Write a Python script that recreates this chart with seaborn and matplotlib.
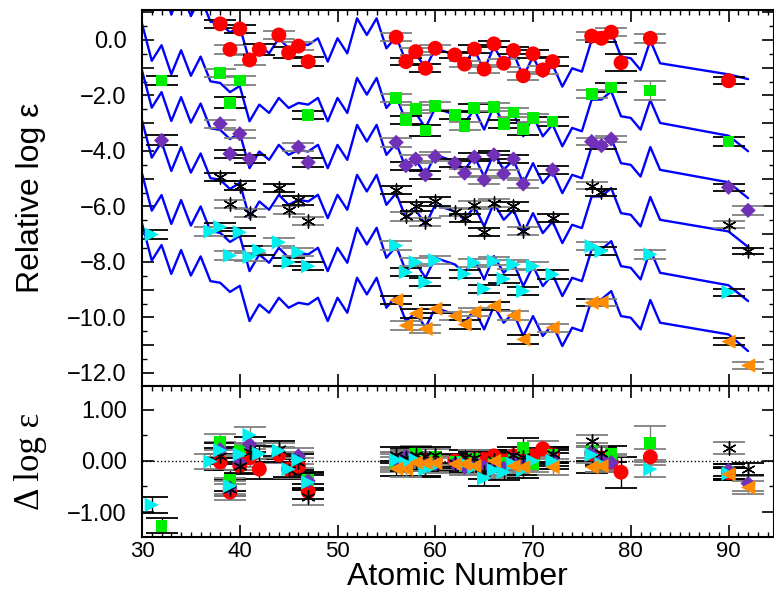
import numpy as np
import pandas as pd
import matplotlib
matplotlib.use("Agg")
import matplotlib.pyplot as plt
import matplotlib.ticker as mticker
import seaborn as sns

# scaled solar r-process pattern (Os = 0)
z_solar = [30, 31, 32, 33, 34, 35, 36, 37, 38, 39, 40, 41, 42, 43, 44, 45, 46, 47,
           48, 49, 50, 51, 52, 53, 54, 55, 56, 57, 58, 59, 60, 62, 63, 64, 65, 66,
           67, 68, 69, 70, 71, 72, 73, 74, 75, 76, 77, 78, 79, 80, 81, 82, 83]
solar_r = [2.74, 1.40, 1.96, 0.92, 1.78, 0.86, 1.55, 0.66, 0.60, 0.27, 0.49, -0.78,
           -0.18, -0.48, 0.06, -0.30, -0.12, -0.18, 0.06, -0.78, 0.06, -0.48, 0.78,
           0.18, 0.78, -0.30, 0.12, -0.78, -0.48, -1.02, -0.30, -0.54, -0.84, -0.36,
           -1.08, -0.24, -0.84, -0.48, -1.32, -0.60, -1.32, -0.90, -1.68, -1.02,
           -1.14, 0.00, 0.00, 0.30, -0.60, -0.66, -1.08, -0.02, -0.84]

# shift of the pattern for every star, and its Th / U end points
stars = ["s1", "s2", "s3", "s4", "s5", "s6"]
offsets = [0.0, -2.15, -3.84, -5.64, -7.55, -9.35]
th_line = [-1.24, -1.30, -1.29, -1.26, -1.29, -1.26]
u_line = [-1.41, -1.86, -1.86, -1.82, -1.86, -1.86]

# observed abundances
red_z = [38, 39, 40, 41, 42, 44, 45, 46, 47, 56, 57, 58, 59, 60, 62, 63, 64, 65, 66,
         67, 68, 69, 70, 71, 72, 76, 77, 78, 79, 82, 90]
red_v = [0.58, -0.34, 0.40, -0.72, -0.34, 0.18, -0.46, -0.22, -0.78, 0.10, -0.78,
         -0.42, -1.02, -0.30, -0.54, -0.87, -0.33, -1.05, -0.14, -0.84, -0.38, -1.29,
         -0.50, -1.08, -0.78, 0.14, 0.06, 0.28, -0.82, 0.06, -1.47]
red_e = [0.15, 0.16, 0.15, 0.18, 0.20, 0.15, 0.20, 0.15, 0.15, 0.15, 0.12, 0.12,
         0.15, 0.12, 0.12, 0.12, 0.15, 0.15, 0.12, 0.15, 0.12, 0.15, 0.15, 0.15,
         0.15, 0.15, 0.12, 0.15, 0.30, 0.16, 0.12]

green_z = [32, 38, 39, 40, 47, 56, 57, 58, 59, 60, 62, 63, 64, 66, 67, 68, 69, 70, 72,
           76, 78, 82, 90]
green_v = [-1.46, -1.18, -2.26, -1.46, -2.70, -2.10, -2.88, -2.49, -3.26, -2.37,
           -2.70, -3.09, -2.46, -2.42, -3.02, -2.61, -3.21, -2.82, -2.94, -1.95,
           -1.71, -1.82, -3.66]
green_e = [0.15, 0.15, 0.20, 0.15, 0.15, 0.15, 0.15, 0.15, 0.20, 0.15, 0.15, 0.15,
           0.15, 0.15, 0.15, 0.15, 0.20, 0.15, 0.15, 0.15, 0.15, 0.34, 0.15]

purple_z = [32, 38, 39, 40, 41, 46, 47, 56, 57, 58, 59, 60, 62, 63, 64, 65, 66, 67,
            68, 69, 72, 76, 77, 78, 90, 92]
purple_v = [-3.62, -3.02, -4.10, -3.38, -4.29, -3.86, -4.41, -3.69, -4.53, -4.29,
            -4.86, -4.20, -4.44, -4.80, -4.22, -5.04, -4.14, -4.82, -4.29, -5.19,
            -4.68, -3.66, -3.81, -3.57, -5.31, -6.14]
purple_e = [0.18, 0.15, 0.15, 0.15, 0.15, 0.15, 0.15, 0.15, 0.15, 0.15, 0.15, 0.15,
            0.15, 0.15, 0.15, 0.15, 0.15, 0.15, 0.15, 0.15, 0.15, 0.12, 0.12, 0.12,
            0.12, 0.15]

black_z = [38, 39, 40, 41, 44, 45, 46, 47, 56, 57, 58, 59, 60, 62, 63, 64, 65, 66, 68,
           69, 72, 76, 77, 90, 92]
black_v = [-4.94, -5.91, -5.25, -6.24, -5.34, -6.12, -5.78, -6.53, -5.40, -6.36,
           -6.00, -6.57, -5.82, -6.21, -6.41, -5.94, -6.93, -5.87, -6.00, -6.89,
           -6.41, -5.25, -5.49, -6.65, -7.61]
black_e = [0.15, 0.15, 0.15, 0.15, 0.15, 0.15, 0.15, 0.15, 0.15, 0.15, 0.15, 0.15,
           0.15, 0.15, 0.15, 0.15, 0.15, 0.15, 0.15, 0.15, 0.15, 0.12, 0.12, 0.12,
           0.12]

cyan_z = [31, 37, 38, 39, 40, 41, 42, 44, 45, 46, 47, 56, 57, 58, 59, 60, 63, 64, 65,
          66, 67, 68, 69, 70, 72, 76, 77, 82, 90]
cyan_v = [-7.01, -6.90, -6.74, -7.77, -6.93, -7.82, -7.59, -7.29, -8.01, -7.65,
          -8.15, -7.41, -8.37, -8.01, -8.73, -7.94, -8.43, -8.03, -8.97, -7.97,
          -8.61, -8.09, -9.05, -8.15, -8.45, -7.43, -7.61, -7.73, -9.09]
cyan_e = [0.15, 0.15, 0.15, 0.15, 0.15, 0.15, 0.15, 0.15, 0.15, 0.15, 0.15, 0.15,
          0.15, 0.15, 0.15, 0.15, 0.15, 0.15, 0.15, 0.15, 0.15, 0.15, 0.15, 0.15,
          0.15, 0.15, 0.15, 0.15, 0.12]

orange_z = [56, 57, 58, 59, 60, 62, 63, 64, 66, 68, 69, 72, 76, 77, 90, 92]
orange_v = [-9.38, -10.29, -9.86, -10.41, -9.69, -9.95, -10.25, -9.81, -9.59, -9.93,
            -10.79, -10.37, -9.47, -9.45, -10.87, -11.73]
orange_e = [0.15, 0.15, 0.15, 0.15, 0.15, 0.15, 0.15, 0.15, 0.15, 0.15, 0.15, 0.15,
            0.12, 0.12, 0.12, 0.12]

obs = [(red_z, red_v, red_e), (green_z, green_v, green_e),
       (purple_z, purple_v, purple_e), (black_z, black_v, black_e),
       (cyan_z, cyan_v, cyan_e), (orange_z, orange_v, orange_e)]

# look of each star's symbols
colors = ["#ff0000", "#00ee00", "#7030b8", "#000000", "#00f0f0", "#ff8c00"]
markers = ["o", "s", "D", (6, 2, 0), ">", "<"]
sizes = [115, 72, 60, 90, 105, 105]

sns.set_style("ticks")
plt.rcParams["font.family"] = ["Liberation Sans", "DejaVu Sans"]
for key in ("text.color", "axes.labelcolor", "xtick.color", "ytick.color",
            "axes.edgecolor"):
    plt.rcParams[key] = "black"

# blue pattern curves for every star
rows = []
for i, s in enumerate(stars):
    zz = z_solar + [90, 92]
    vv = solar_r + [th_line[i], u_line[i]]
    for z, v in zip(zz, vv):
        rows.append({"star": s, "Z": z, "logeps": v + offsets[i]})
line_df = pd.DataFrame(rows)

fig = plt.figure(figsize=(7.74, 5.96), dpi=100)
W = 774.0
H = 596.0
ax1 = fig.add_axes([142 / W, 1 - 386 / H, (773.5 - 142) / W, (386 - 10) / H])
ax2 = fig.add_axes([142 / W, 1 - 537 / H, (773.5 - 142) / W, (537 - 386) / H])

sns.lineplot(data=line_df, x="Z", y="logeps", units="star", estimator=None,
             color="#0000ff", lw=1.7, ax=ax1, zorder=2)

ax2.axhline(0.0, color="k", ls=":", lw=1.0, zorder=1)

for i, s in enumerate(stars):
    z, v, e = obs[i]
    ref = line_df[line_df["star"] == s].set_index("Z")["logeps"]
    resid = [vi - ref[zi] for zi, vi in zip(z, v)]
    ecols = ["k" if j % 2 == 0 else "0.5" for j in range(len(z))]
    for ax, yy in ((ax1, v), (ax2, resid)):
        for j in range(len(z)):
            ax.errorbar(z[j], yy[j], yerr=e[j], fmt="none", ecolor=ecols[j],
                        elinewidth=1.0, capsize=11.5, capthick=1.3, zorder=3)
        if i == 3:
            sns.scatterplot(x=z, y=yy, marker=markers[i], s=sizes[i], color="k",
                            edgecolor="k", linewidth=1.0, ax=ax, zorder=4)
        else:
            sns.scatterplot(x=z, y=yy, marker=markers[i], s=sizes[i],
                            color=colors[i], edgecolor="none", linewidth=0,
                            ax=ax, zorder=4)

# axes ranges, ticks and labels
for ax in (ax1, ax2):
    ax.set_xlim(30, 94.6)
    ax.xaxis.set_major_locator(mticker.MultipleLocator(10))
    ax.xaxis.set_minor_locator(mticker.MultipleLocator(1))
    ax.tick_params(which="major", direction="in", top=True, right=True,
                   length=8.5, width=1.2, labelsize=17)
    ax.tick_params(which="minor", direction="in", top=True, right=True,
                   length=3.6, width=1.0)
    ax.yaxis.set_tick_params(pad=11)
    ax.xaxis.set_tick_params(pad=3, labelsize=16)
    for sp in ax.spines.values():
        sp.set_linewidth(1.5)
        sp.set_visible(True)

ax1.set_ylim(-12.47, 1.08)
ax1.yaxis.set_major_locator(mticker.MultipleLocator(1))
ax1.yaxis.set_minor_locator(mticker.MultipleLocator(0.5))
ax1.yaxis.set_major_formatter(mticker.FuncFormatter(
    lambda v, p: (f"{v:.1f}".replace("-", "\u2212") if round(v) % 2 == 0 else "")))
ax1.tick_params(labelbottom=False)
ax1.tick_params(which="minor", bottom=False)
ax1.set_xlabel("")
ax1.set_ylabel("Relative log \u03b5", fontsize=23)
ax1.yaxis.set_label_coords(-0.152, 0.5)

ax2.set_ylim(-1.49, 1.47)
ax2.yaxis.set_major_locator(mticker.MultipleLocator(1))
ax2.yaxis.set_minor_locator(mticker.MultipleLocator(0.5))
ax2.yaxis.set_major_formatter(mticker.FuncFormatter(
    lambda v, p: f"{v:.2f}".replace("-", "\u2212")))
ax2.set_ylabel("\u0394 log \u03b5", fontsize=25, family=["Liberation Serif"])
ax2.yaxis.set_label_coords(-0.15, 0.5)
ax2.set_xlabel("Atomic Number", fontsize=23, labelpad=0)

fig.savefig("out.png", dpi=100)
